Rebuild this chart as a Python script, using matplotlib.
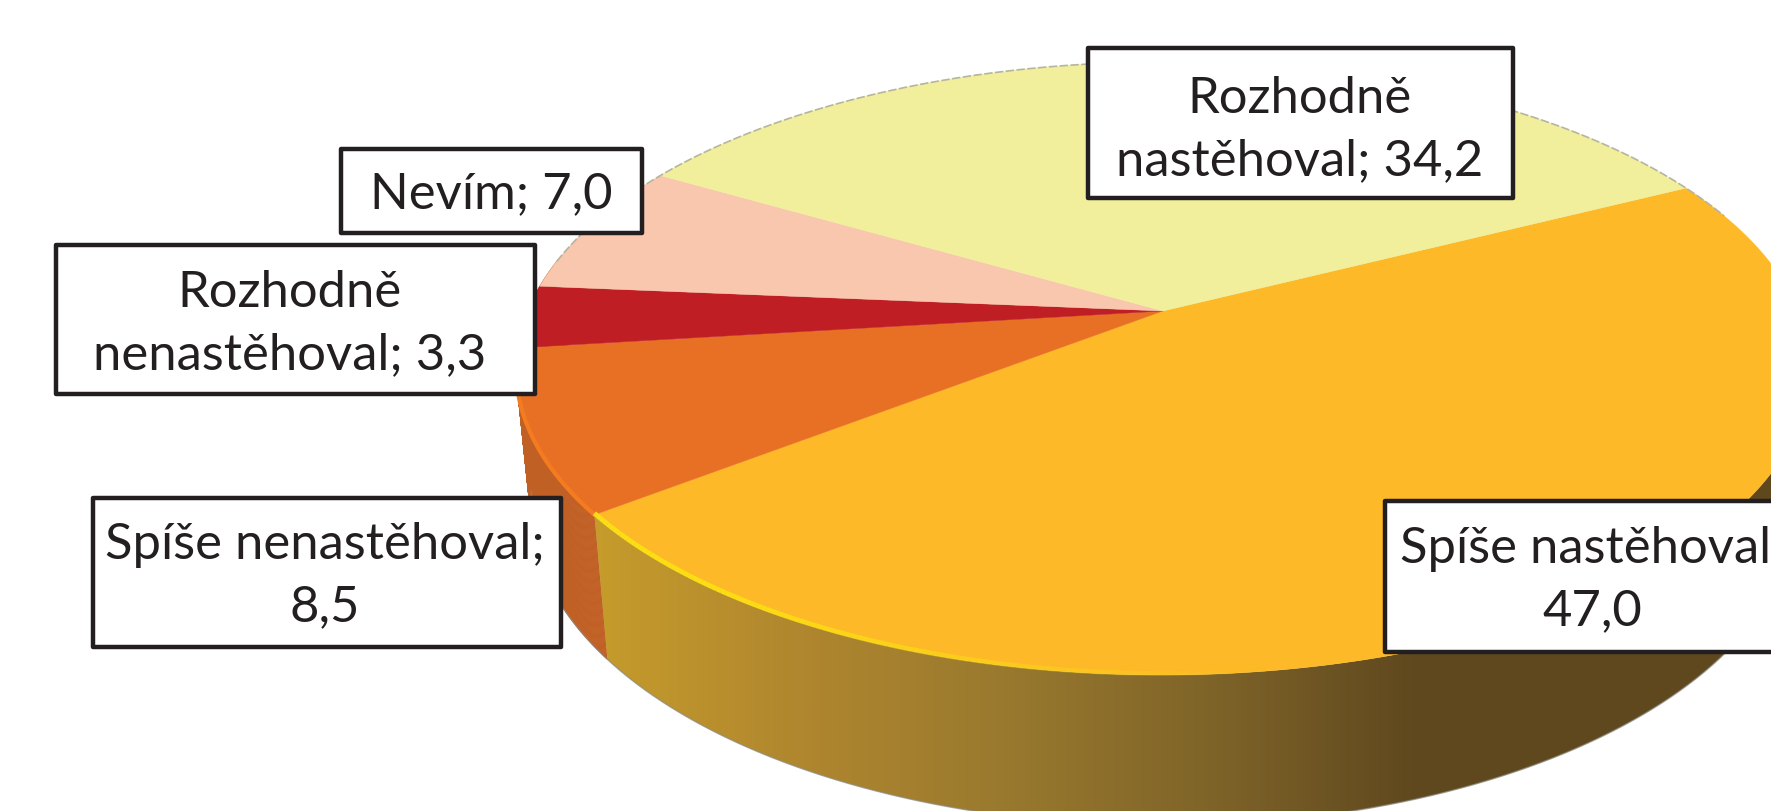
from matplotlib import pyplot as plt
from matplotlib.collections import LineCollection, PolyCollection
from matplotlib.patches import Polygon, Rectangle
from matplotlib.colors import LinearSegmentedColormap
import numpy as np

plt.rcParams['font.family'] = ['Lato', 'DejaVu Sans']

# slices, clockwise from the yellow/gold boundary on the right
names = ["Spíše nastěhoval", "Spíše nenastěhoval", "Rozhodně nenastěhoval", "Nevím", "Rozhodně nastěhoval"]
values = [47.0, 8.5, 3.3, 7.0, 34.2]
top_colors = ["#fdb927", "#e87024", "#bf1e25", "#f9c6ae", "#f1ef9b"]
label_texts = ["Spíše nastěhoval;\n47,0", "Spíše nenastěhoval;\n8,5", "Rozhodně\nnenastěhoval; 3,3",
               "Nevím; 7,0", "Rozhodně\nnastěhoval; 34,2"]

wall_orange = "#c16025"
wall_gold_stops = [(0, "#c99f2b"), (0.04, "#c49a2c"), (0.2, "#b0862f"), (0.36, "#9a7a2e"),
                   (0.53, "#806529"), (0.65, "#6a5122"), (0.71, "#5f481e"), (1, "#5f481e")]

start_angle = 26.8
persp = 0.1876		# how much closer the front of the disc is
cx = 1163
cy_top, a_top, b_top = 311, 635.5, 295.7
cy_low, a_low, b_low = 448, 621, 306.8


def project(theta, cy, a, b):
    t = np.radians(theta)
    u = np.cos(t)
    v = -np.sin(t)
    den = 1 - persp * v
    return cx + a * u / den, cy + b * v / den


fig = plt.figure(figsize=(17.71, 8.11), dpi=100)
ax = fig.add_axes([0, 0, 1, 1])
ax.set_xlim(0, 1771)
ax.set_ylim(811, 0)
ax.axis("off")

edges = start_angle - np.cumsum([0] + values) * 360 / sum(values)


def wall_quads(th1, th2):
    th = np.linspace(th1, th2, 240)
    xt, yt = project(th, cy_top, a_top, b_top)
    xl, yl = project(th, cy_low, a_low, b_low)
    quads = []
    for j in range(len(th) - 1):
        quads.append([(xt[j], yt[j]), (xt[j + 1], yt[j + 1]), (xl[j + 1], yl[j + 1]), (xl[j], yl[j])])
    return quads


# side wall: only orange and gold can be seen from the front
ax.add_collection(PolyCollection(wall_quads(edges[1], edges[1] - 48), facecolors=wall_orange,
                                 edgecolors=wall_orange, linewidths=0.5, zorder=1))

# gold part gets a gradient, clipped to its outline
th = np.linspace(edges[1], 10, 300)
xt, yt = project(th, cy_top, a_top, b_top)
xl, yl = project(th, cy_low, a_low, b_low)
gold_poly = Polygon(np.column_stack([np.r_[xt, xl[::-1]], np.r_[yt, yl[::-1]]]), closed=True,
                    fc="none", ec="none", zorder=1)
ax.add_patch(gold_poly)
cmap = LinearSegmentedColormap.from_list("wall", wall_gold_stops)
im = ax.imshow(np.linspace(0, 1, 512).reshape(1, -1), cmap=cmap, extent=[560, 1771, 811, 300],
               aspect="auto", zorder=1.1)
im.set_clip_path(gold_poly)
ax.set_xlim(0, 1771)
ax.set_ylim(811, 0)

# soft grey edge under the wall
th = np.linspace(-172, 10, 300)
x, y = project(th, cy_low, a_low, b_low)
ax.plot(x, y, color="#8a8a80", lw=1, alpha=0.7, zorder=1.2)

# top face
for i in range(len(values)):
    th = np.linspace(edges[i], edges[i + 1], 200)
    x, y = project(th, cy_top, a_top, b_top)
    ax.fill(np.r_[cx, x], np.r_[cy_top, y], color=top_colors[i], lw=0.3, zorder=2)

# thin grey outline along the back of the disc
th = np.linspace(-190, -340, 300)
x, y = project(th, cy_top, a_top, b_top)
ax.plot(x, y, color="#b5b5a0", lw=1.2, ls=(0, (5, 1.5)), zorder=2.1)

# bright rims on the front edge
th = np.linspace(edges[1], edges[1] - 30.6, 60)
x, y = project(th, cy_top, a_top, b_top)
ax.plot(x, y, color="#f47b20", lw=3, zorder=2.2)

th = np.linspace(edges[1], -82, 120)
x, y = project(th, cy_top, a_top, b_top)
pts = np.column_stack([x, y - 1.5])
segs = np.stack([pts[:-1], pts[1:]], axis=1)
rim_alpha = np.clip(np.linspace(1.4, 0, len(segs)), 0, 1)
rim_cols = [(0.99, 0.87, 0.08, al) for al in rim_alpha]
ax.add_collection(LineCollection(segs, colors=rim_cols, linewidths=3.5, zorder=2.2))

# label boxes: x0, y0, x1, y1
box_x0 = [1385, 93, 56, 341, 1088]
box_y0 = [501, 498, 245, 149, 48]
box_x1 = [1800, 561, 535, 642, 1513]
box_y1 = [652, 647, 394, 233, 198]
text_x = [1592, 325, 290, 491, 1300]
text_y = [580, 576, 324, 194, 130]

for i in range(len(values)):
    ax.add_patch(Rectangle((box_x0[i], box_y0[i]), box_x1[i] - box_x0[i], box_y1[i] - box_y0[i],
                           fc="white", ec="#231f20", lw=3.2, joinstyle="round", zorder=3))
    ax.text(text_x[i], text_y[i], label_texts[i], ha="center", va="center", fontsize=36.5,
            color="#231f20", linespacing=1.42, zorder=4)

fig.savefig("out.png", dpi=100)
